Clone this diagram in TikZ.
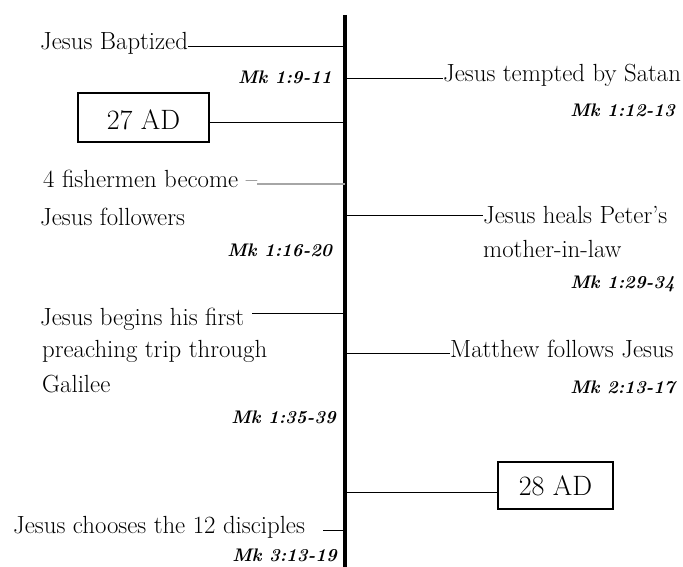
\documentclass[tikz,border=0pt]{standalone}
\usetikzlibrary{calc}
\begin{document}
\begin{tikzpicture}[x=1pt,y=-1pt,
  txt/.style={inner sep=0pt, font=\fontsize{24.8}{30}\selectfont},
  ref/.style={inner sep=0pt, font=\fontsize{18.2}{22}\selectfont\bfseries\itshape},
  yearbox/.style={draw, line width=1.2pt, inner sep=0pt, font=\fontsize{28}{32}\selectfont},
  conn/.style={line width=1pt},
  grayconn/.style={line width=1.8pt, black!35},
  axisline/.style={line width=3.5pt}]
\useasboundingbox (0,0) rectangle (683,567);
\coordinate (axtop) at (345,15);
\coordinate (axbot) at (345,567);
\draw[axisline] (axtop) -- (axbot);

% ---- left side ----
\node[txt, anchor=base west] (bap) at (40,50) {Jesus Baptized};
\node[ref, anchor=base east] (r1) at (332,84) {Mk 1:9-11};
\node[yearbox, minimum width=131pt, minimum height=49pt, text height=25pt, text depth=0pt] (y27) at (143.5,117.5) {27 AD};
\node[txt, anchor=base west] (fish1) at (43,188) {4 fishermen become --};
\node[txt, anchor=base west] (fish2) at (40,225) {Jesus followers};
\node[ref, anchor=base east] (r5) at (332,256) {Mk 1:16-20};
\node[txt, anchor=base west] (beg1) at (40,325) {Jesus begins his first};
\node[txt, anchor=base west] (beg2) at (42,357) {preaching trip through};
\node[txt, anchor=base west] (beg3) at (42,392) {Galilee};
\node[ref, anchor=base east] (r6) at (336,423) {Mk 1:35-39};
\node[txt, anchor=base west] (cho) at (13,533) {Jesus chooses the 12 disciples};
\node[ref, anchor=base east] (r7) at (337,561) {Mk 3:13-19};

% ---- right side ----
\node[txt, anchor=base west] (tempt) at (443,82) {Jesus tempted by Satan};
\node[ref, anchor=base east] (r2) at (675,117) {Mk 1:12-13};
\node[txt, anchor=base west] (heal1) at (483,223) {Jesus heals Peter's};
\node[txt, anchor=base west] (heal2) at (483,257) {mother-in-law};
\node[ref, anchor=base east] (r3) at (675,288) {Mk 1:29-34};
\node[txt, anchor=base west] (matt) at (450,357) {Matthew follows Jesus};
\node[ref, anchor=base east] (r4) at (675,393) {Mk 2:13-17};
\node[yearbox, minimum width=115pt, minimum height=47pt] (y28) at (555.5,485.5) {28 AD};

% ---- connectors ----
\coordinate (cbap) at ([yshift=3.3pt]bap.base east);
\draw[conn] (cbap) -- (cbap -| axtop);
\coordinate (c27) at ([yshift=-5.5pt]y27.east);
\draw[conn] (c27) -- (c27 -| axtop);
\coordinate (cfish) at ([yshift=4pt]fish1.base east);
\draw[grayconn] (cfish) -- (cfish -| axtop);
\coordinate (cbeg) at ([xshift=8pt,yshift=11.5pt]beg1.base east);
\draw[conn] (cbeg) -- (cbeg -| axtop);
\coordinate (ccho) at ([xshift=18pt,yshift=3pt]cho.base east);
\draw[conn] (ccho) -- (ccho -| axtop);

\coordinate (ctempt) at ([yshift=3pt]tempt.base west);
\draw[conn] (ctempt -| axtop) -- (ctempt);
\coordinate (cheal) at ([yshift=8pt]heal1.base west);
\draw[conn] (cheal -| axtop) -- (cheal);
\coordinate (cmatt) at ([yshift=4pt]matt.base west);
\draw[conn] (cmatt -| axtop) -- (cmatt);
\coordinate (c28) at ([yshift=-6.5pt]y28.west);
\draw[conn] (c28 -| axtop) -- (c28);
\end{tikzpicture}
\end{document}
